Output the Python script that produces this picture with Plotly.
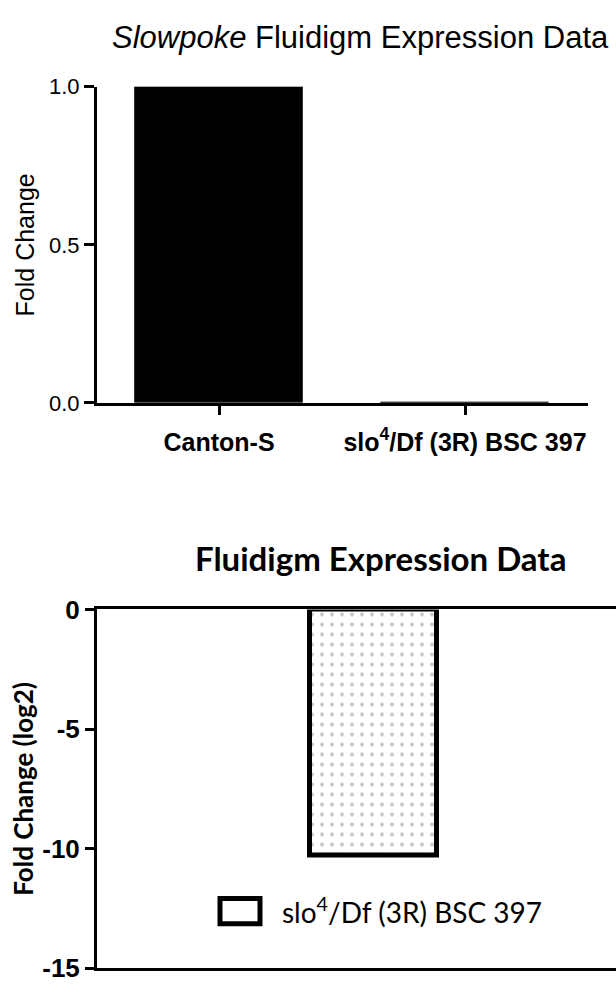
import plotly.graph_objects as go

# ---- data ----
top_categories = ["Canton-S", "slo<sup>4</sup>/Df (3R) BSC 397"]
top_values = [1.0, 0.00085]
top_yticks = [0.0, 0.5, 1.0]
top_yticklabels = ["0.0", "0.5", "1.0"]

bottom_categories = ["slo<sup>4</sup>/Df (3R) BSC 397"]
bottom_values = [-10.3]
bottom_yticks = [0, -5, -10, -15]
bottom_yticklabels = ["0", "-5", "-10", "-15"]
legend_label = "slo<sup>4</sup>/Df (3R) BSC 397"

W, H = 616, 994
ARIAL = "Liberation Sans, Arial, sans-serif"
CALI = "Lato, Open Sans, sans-serif"


def px(x):
    return x / W


def py(y):
    return 1 - y / H


fig = go.Figure()

fig.add_trace(go.Bar(
    x=top_categories, y=top_values, xaxis="x", yaxis="y",
    width=0.683, marker=dict(color="black", line=dict(color="#333333", width=1)),
    showlegend=False,
))

fig.add_trace(go.Bar(
    x=bottom_categories, y=bottom_values, xaxis="x2", yaxis="y2",
    width=1.0, name=legend_label,
    marker=dict(color="white", line=dict(color="black", width=5),
                pattern=dict(shape=".", fgcolor="#8a8a8a", bgcolor="white",
                             size=10, solidity=0.12)),
    showlegend=False,
))

fig.update_layout(
    width=W, height=H, margin=dict(l=0, r=0, t=0, b=0),
    paper_bgcolor="white", plot_bgcolor="white",
    bargap=0,
    xaxis=dict(domain=[px(97), px(588)], range=[-0.496, 1.5], anchor="y",
               showline=True, linecolor="black", linewidth=3,
               ticks="outside", ticklen=9, tickwidth=3, tickcolor="black",
               ticklabelstandoff=6,
               showgrid=False, zeroline=False,
               tickfont=dict(family=ARIAL, size=25, color="black", weight="bold")),
    yaxis=dict(domain=[py(400), py(74)], range=[0, 1], anchor="x",
               showline=True, linecolor="black", linewidth=3,
               ticks="outside", ticklen=10, tickwidth=3, tickcolor="black",
               tickvals=top_yticks, ticktext=top_yticklabels,
               showgrid=False, zeroline=False,
               tickfont=dict(family=ARIAL, size=22, color="black"),
               title=dict(text="Fold Change", font=dict(family=ARIAL, size=25, color="black"),
                          standoff=8)),
    xaxis2=dict(domain=[px(97), 1.0], range=[-2.177, 1.91], anchor="y2",
                showline=True, mirror=True, linecolor="black", linewidth=3,
                showticklabels=False, ticks="", showgrid=False, zeroline=False),
    yaxis2=dict(domain=[py(983), py(613)], range=[-15, 0], anchor="x2",
                showline=True, linecolor="black", linewidth=3,
                ticks="outside", ticklen=9, tickwidth=3, tickcolor="black",
                tickvals=bottom_yticks, ticktext=bottom_yticklabels,
                showgrid=False, zeroline=False,
                tickfont=dict(family=ARIAL, size=26, color="black", weight="bold"),
                title=dict(text="Fold Change (log2)",
                           font=dict(family=CALI, size=26, color="black", weight="bold"),
                           standoff=2)),
    showlegend=False,
    shapes=[
        # legend swatch for the bottom series
        dict(type="rect", xref="paper", yref="paper",
             x0=px(220), x1=px(260), y0=py(937), y1=py(911),
             line=dict(color="black", width=5), fillcolor="white"),
    ],
    annotations=[
        dict(text="<i>Slowpoke</i> Fluidigm Expression Data", x=px(360), y=py(23),
             xref="paper", yref="paper", showarrow=False,
             xanchor="center", yanchor="middle",
             font=dict(family=ARIAL, size=31, color="black")),
        dict(text="<b>Fluidigm Expression Data</b>", x=px(380), y=py(560),
             xref="paper", yref="paper", showarrow=False,
             xanchor="center", yanchor="middle",
             font=dict(family=CALI, size=33, color="black")),
        dict(text=legend_label, x=px(280), y=py(923), xanchor="left", yanchor="middle",
             xref="paper", yref="paper", showarrow=False,
             font=dict(family=CALI, size=28, color="black")),
    ],
)

fig.write_html("out.html")
